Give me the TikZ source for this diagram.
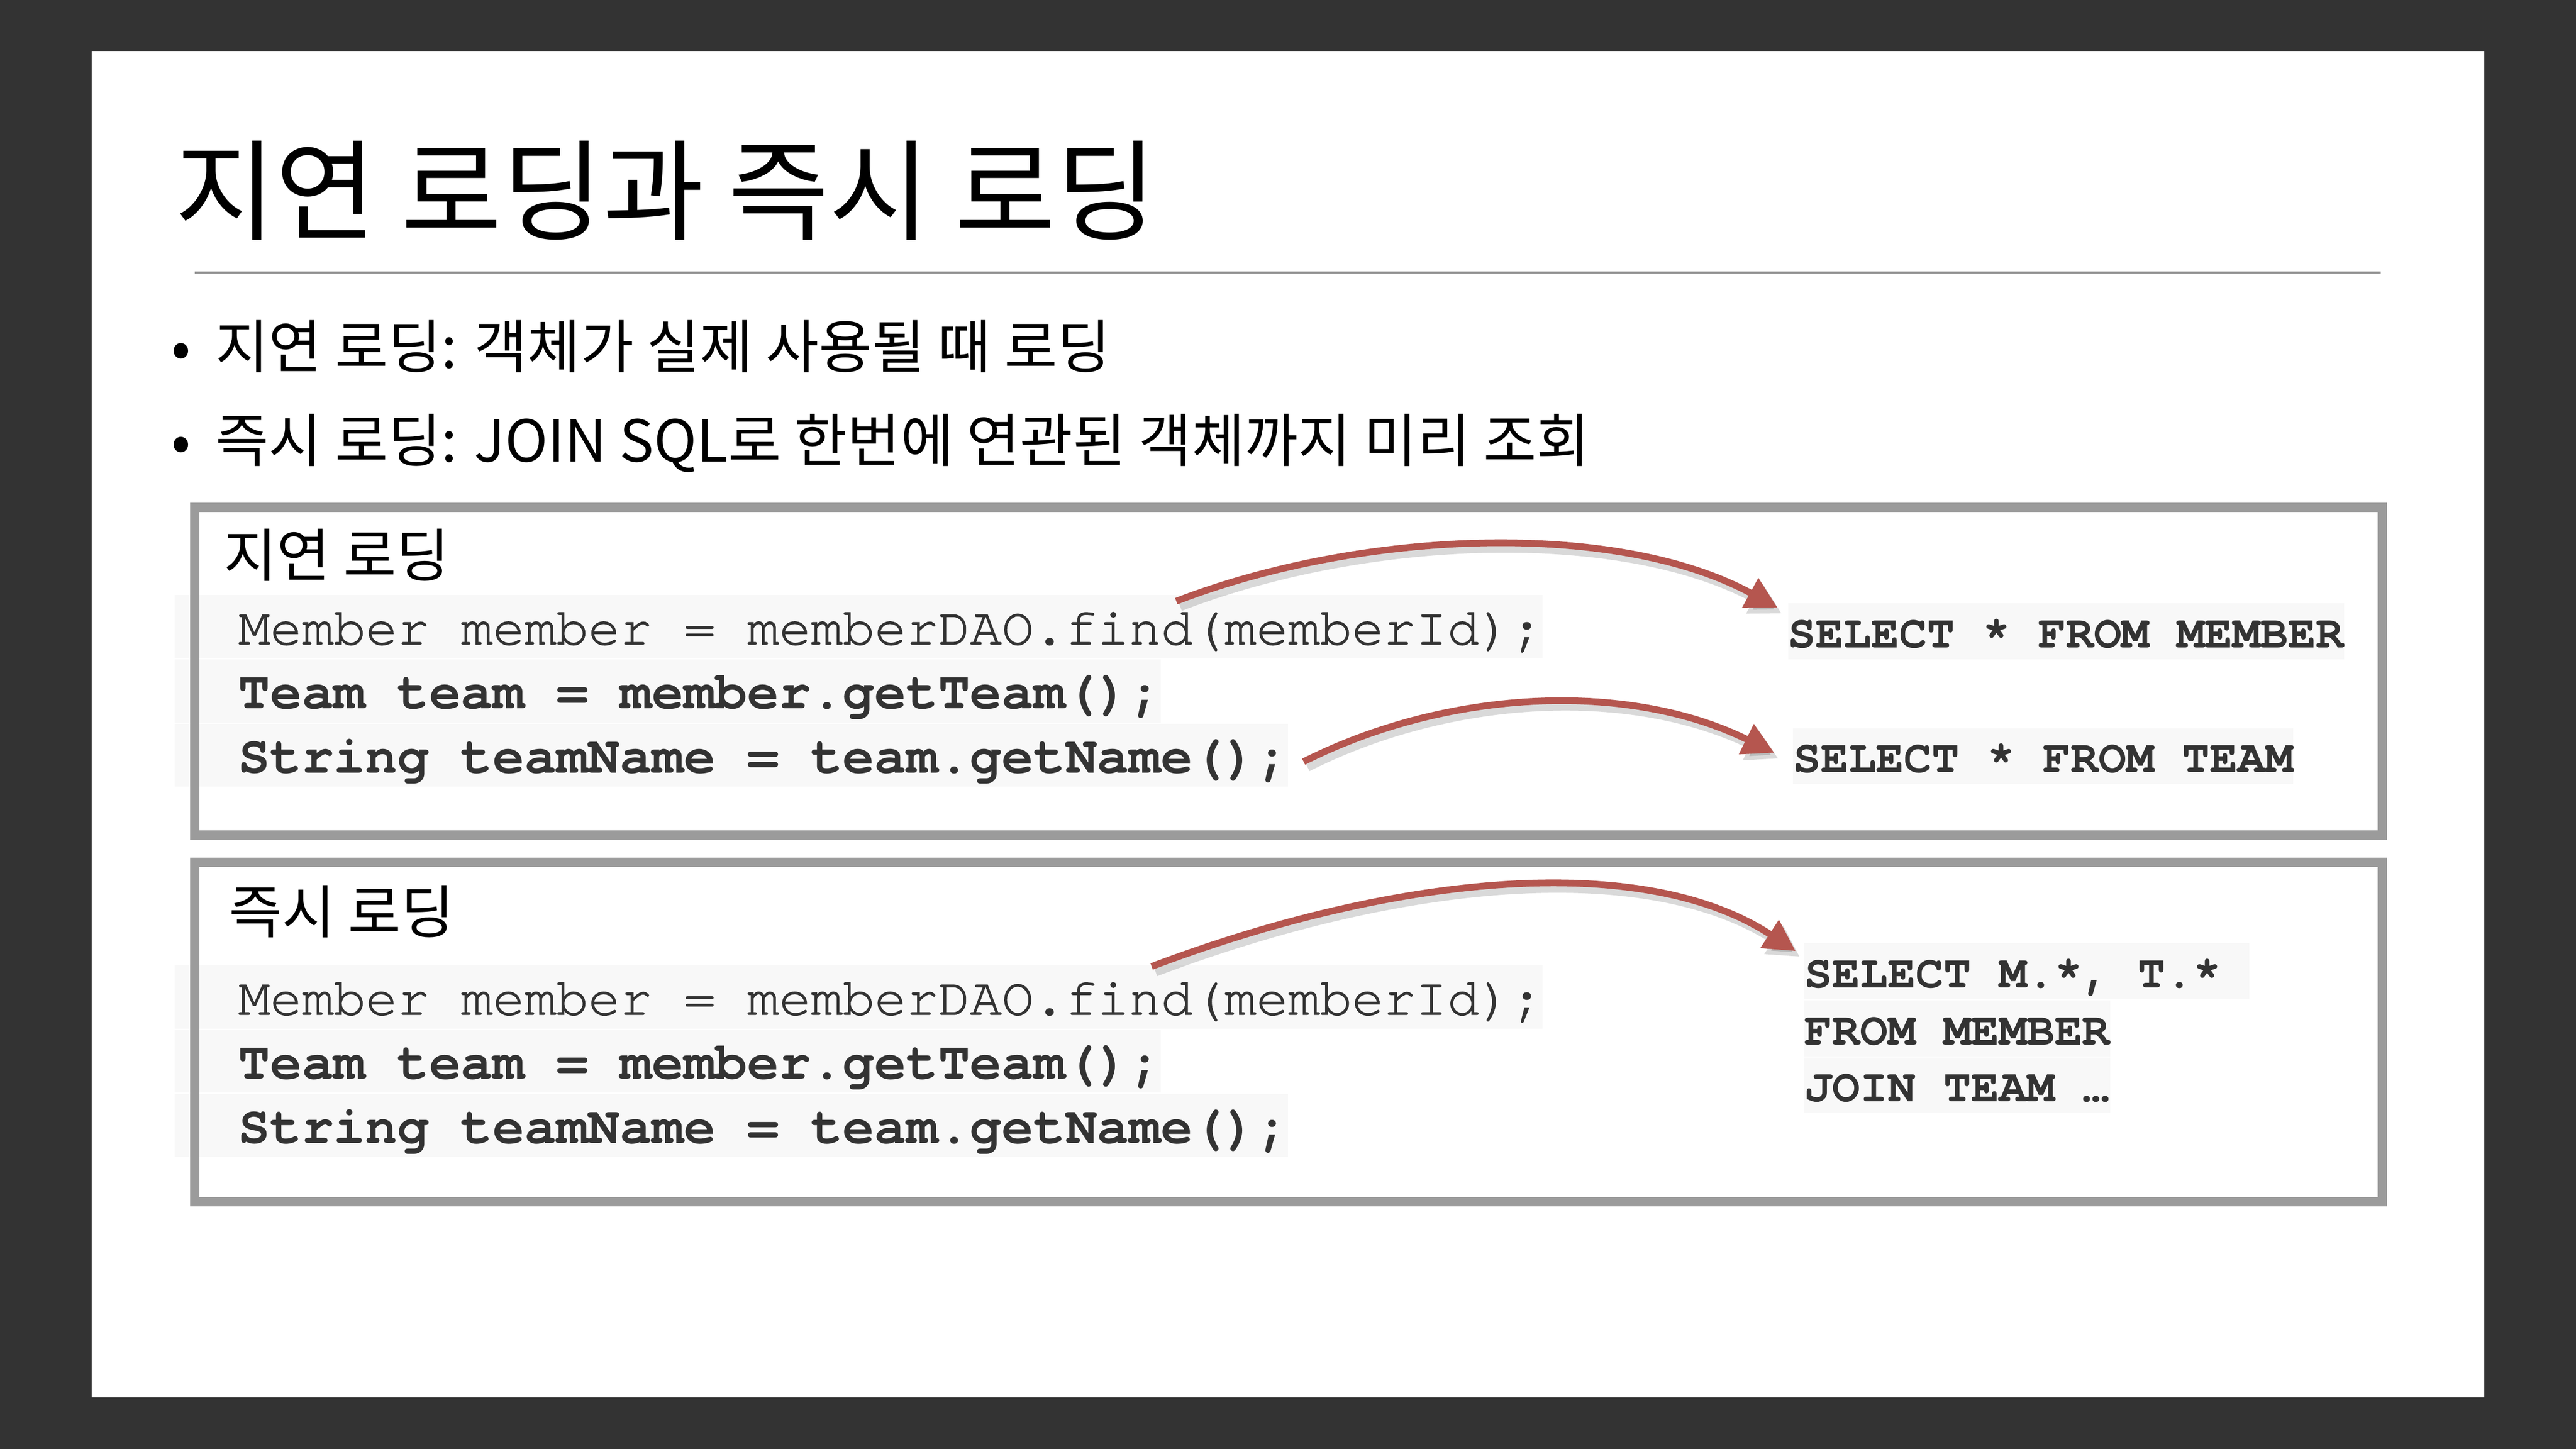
\documentclass[tikz,border=0pt]{standalone}
\usepackage{fontspec}
\setmainfont{Noto Sans CJK KR}
\setmonofont{Liberation Mono}
\newfontfamily\courierfont[Extension=.otf, Ligatures=NoCommon, UprightFont=texgyrecursor-regular, BoldFont=texgyrecursor-bold, UprightFeatures={FakeBold=1.2}]{texgyrecursor}
\usetikzlibrary{arrows.meta,positioning}
\definecolor{deskgray}{HTML}{333333}
\definecolor{codegray}{HTML}{333333}
\definecolor{codebg}{HTML}{F8F8F8}
\definecolor{framegray}{HTML}{9B9B9B}
\definecolor{rulegray}{HTML}{8E8E8E}
\definecolor{fetchred}{HTML}{B5564F}
\begin{document}
\begin{tikzpicture}[x=0.02cm,y=-0.02cm,
    heading/.style={anchor=base west, inner sep=0, font=\fontsize{20}{24}\selectfont},
    codeline/.style={anchor=north west, inner sep=0, fill=codebg, text=codegray,
      text height=0.6cm, text depth=0.168cm, font=\fontsize{18.37}{22}\courierfont},
    codebold/.style={codeline, font=\fontsize{18.37}{22}\courierfont\bfseries},
    sqlline/.style={anchor=north west, inner sep=0, fill=codebg, text=codegray,
      text height=0.54cm, text depth=0.14cm, font=\fontsize{16.05}{19}\courierfont\bfseries},
    loadbox/.style={draw=framegray, line width=0.114cm},
    fetch/.style={draw=fetchred, line width=0.082cm, -{Triangle[length=0.38cm,width=0.39cm]},
      preaction={draw=black, draw opacity=0.15, fill opacity=0.15, line width=0.1cm,
        transform canvas={shift={(0.05cm,-0.07cm)}}}}]
    \useasboundingbox (0,0) rectangle (1568,882);
    % Slide
    \fill[deskgray] (0,0) rectangle (1568,882);
    \fill[white] (55.7,31.2) rectangle (1512.3,850.8);
    % Title
    \node[anchor=base west, inner sep=0, font=\fontsize{38}{44}\selectfont] (title) at (106,141) {지연 로딩과 즉시 로딩};
    \draw[rulegray, line width=0.025cm] (118.5,166) -- (1449,166);
    % Bullets
    \node[heading] (dot1) at (104,224) {•};
    \node[heading] (lazy) at (131,224) {지연 로딩: 객체가 실제 사용될 때 로딩};
    \node[heading] (dot2) at (104,281) {•};
    \node[heading] (eager) at (131,281) {즉시 로딩: JOIN SQL로 한번에 연관된 객체까지 미리 조회};
    % Lazy loading
    \node[heading] (lazyhead) at (136,351) {지연 로딩};
    \node[codeline] (m1) at (106,362) {\ \ Member member = memberDAO.find(memberId);\ };
    \node[codebold] (m2) at (m1.south west) {\ \ Team team = member.getTeam();\ };
    \node[codebold] (m3) at (m2.south west) {\ \ String teamName = team.getName();};
    \node[sqlline] (sql1) at (1088,367) {SELECT * FROM MEMBER};
    \node[sqlline] (sql2) at (1091,443) {SELECT * FROM TEAM};
    \draw[loadbox] (118.5,309) rectangle (1450,508.5);
    % Eager loading
    \node[heading] (eagerhead) at (139,568) {즉시 로딩};
    \node[codeline] (n1) at (106,587.4) {\ \ Member member = memberDAO.find(memberId);\ };
    \node[codebold] (n2) at (n1.south west) {\ \ Team team = member.getTeam();\ };
    \node[codebold] (n3) at (n2.south west) {\ \ String teamName = team.getName();};
    \node[sqlline] (sql3) at (1098,574) {SELECT M.*, T.*\ \ };
    \node[sqlline] (sql4) at (sql3.south west) {FROM MEMBER\ };
    \node[sqlline] (sql5) at (sql4.south west) {JOIN TEAM …};
    \draw[loadbox] (118.5,525) rectangle (1450,731.5);
    % Queries
    \draw[fetch] ([shift={(610,4)}]m1.north west) .. controls (830,322) and (985,317) .. ([shift={(-6,3)}]sql1.north west);
    \draw[fetch] ([shift={(9,4)}]m3.east) .. controls (880,420) and (990,414) .. ([shift={(-11,-2)}]sql2.west);
    \draw[fetch] ([shift={(595,1)}]n1.north west) .. controls (850,532) and (1000,518) .. ([shift={(-5,5)}]sql3.north west);
\end{tikzpicture}
\end{document}
